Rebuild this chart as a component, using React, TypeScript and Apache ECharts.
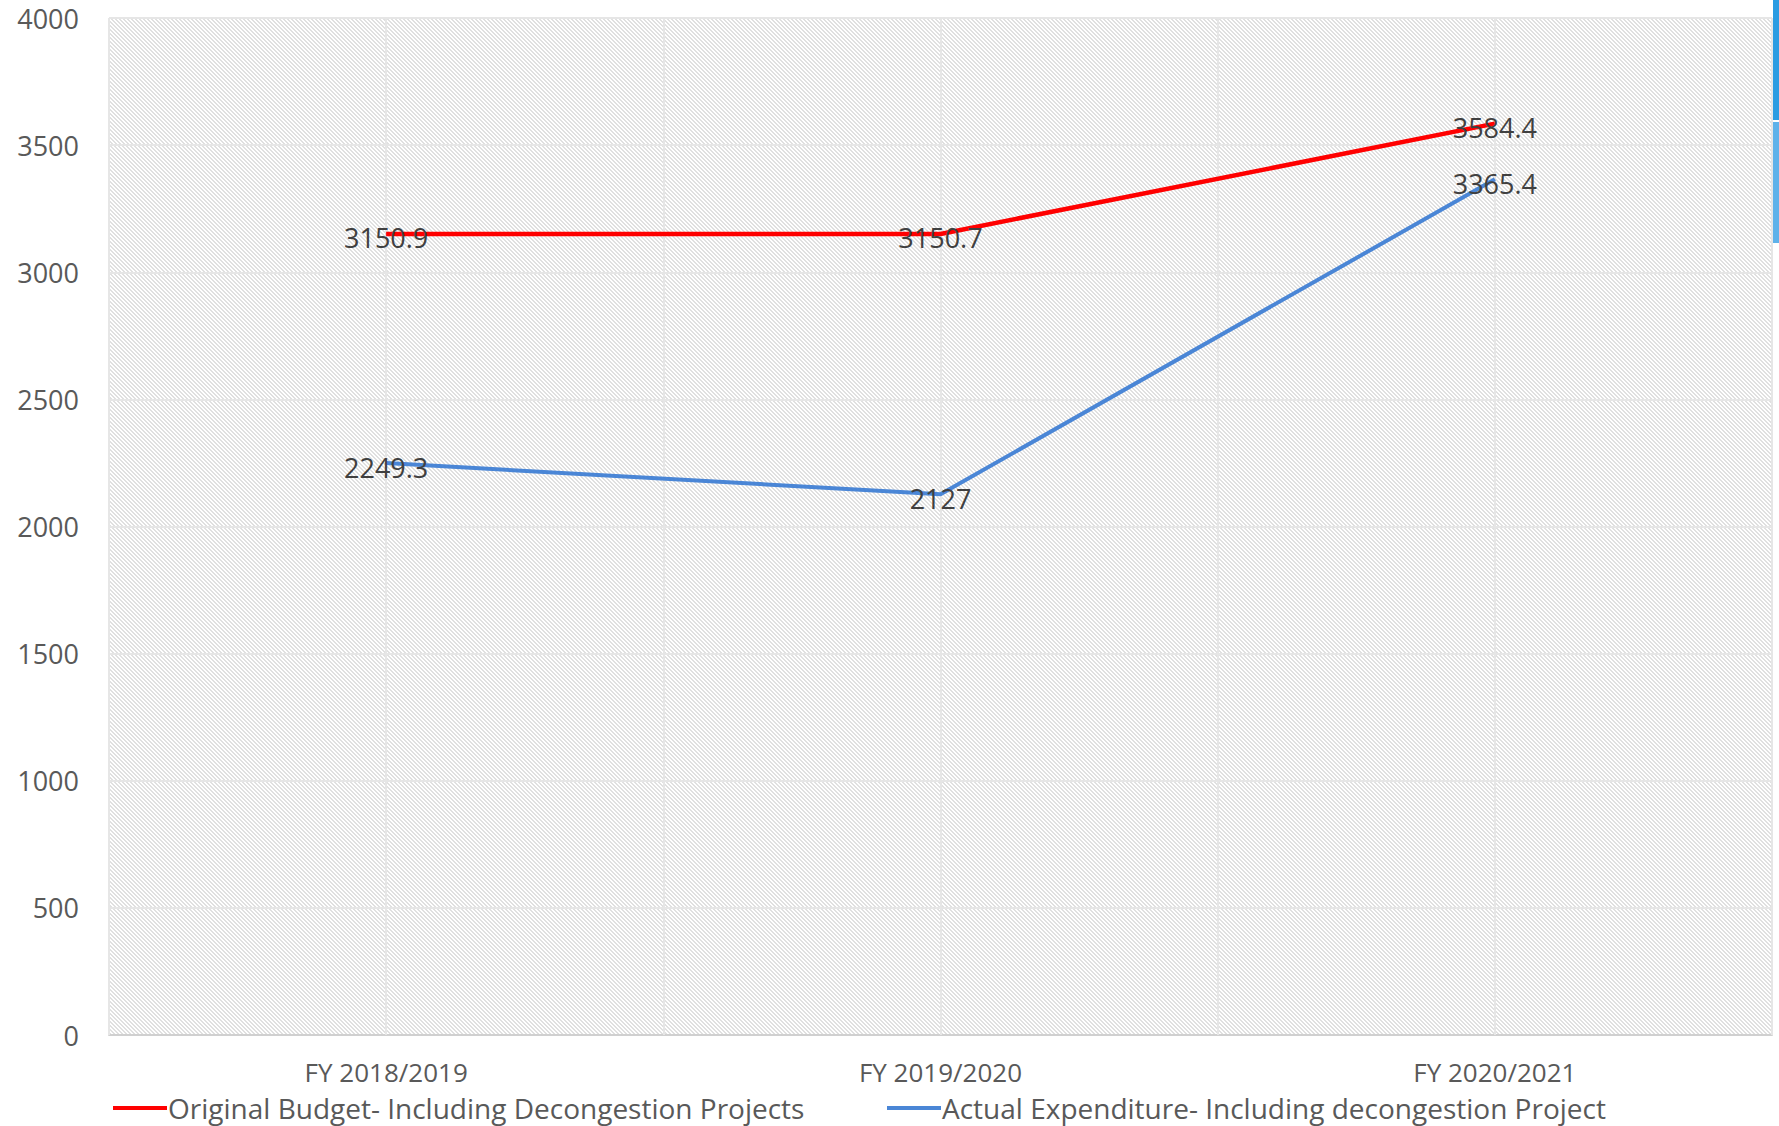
import React, { useEffect, useRef } from "react";
import * as echarts from "echarts";

const categories = ["FY 2018/2019", "FY 2019/2020", "FY 2020/2021"];
const originalBudget = [3150.9, 3150.7, 3584.4];
const actualExpenditure = [2249.3, 2127, 3365.4];
const seriesNames = [
  "Original Budget- Including Decongestion Projects",
  "Actual Expenditure- Including decongestion Project",
];
const yMin = 0;
const yMax = 4000;
const yInterval = 500;

const FONT = "'Open Sans', 'Noto Sans', sans-serif";

function makePattern(): HTMLCanvasElement {
  const c = document.createElement("canvas");
  c.width = 4;
  c.height = 4;
  const ctx = c.getContext("2d")!;
  ctx.fillStyle = "#ffffff";
  ctx.fillRect(0, 0, 4, 4);
  ctx.fillStyle = "#e0e0e0";
  for (let i = 0; i < 4; i++) {
    ctx.fillRect(i, i, 1, 1);
    ctx.fillRect((i + 1) % 4, i, 1, 1);
  }
  return c;
}

export default function App() {
  const ref = useRef<HTMLDivElement>(null);
  useEffect(() => {
    if (!ref.current) return;
    const chart = echarts.init(ref.current, undefined, { renderer: "svg" });
    const pattern = makePattern();
    const labelStyle = {
      show: true,
      position: "inside" as const,
      offset: [0, 4],
      fontFamily: FONT,
      fontSize: 27,
      color: "#404040",
    };
    const legendText = {
      fontFamily: FONT,
      fontSize: 28,
      lineHeight: 28,
      color: "#595959",
      padding: [0, 0, 0, -4],
    };
    chart.setOption({
      animation: false,
      backgroundColor: "#ffffff",
      grid: {
        left: 109,
        right: 7,
        top: 18,
        bottom: 91,
        show: true,
        borderColor: "#d9d9d9",
        borderWidth: 1,
        backgroundColor: { image: pattern, repeat: "repeat" },
        containLabel: false,
      },
      legend: [
        {
          data: [seriesNames[0]],
          left: 113,
          top: 1094,
          padding: 0,
          icon: "rect",
          itemWidth: 54,
          itemHeight: 4,
          itemGap: 0,
          textStyle: legendText,
        },
        {
          data: [seriesNames[1]],
          left: 887,
          top: 1094,
          padding: 0,
          icon: "rect",
          itemWidth: 54,
          itemHeight: 4,
          itemGap: 0,
          textStyle: legendText,
        },
      ],
      xAxis: [
        {
          type: "category",
          data: categories,
          boundaryGap: true,
          axisLine: { show: true, lineStyle: { color: "#d0d0d0", width: 2 } },
          axisTick: { show: false },
          splitLine: { show: false },
          axisLabel: {
            fontFamily: FONT,
            fontSize: 26,
            lineHeight: 26,
            color: "#595959",
            margin: 24,
          },
        },
        {
          type: "value",
          min: 0,
          max: 6,
          interval: 1,
          position: "top",
          axisLine: { show: false },
          axisTick: { show: false },
          axisLabel: { show: false },
          splitLine: { show: true, lineStyle: { color: "#e6e6e6", width: 2 } },
          z: 2,
        },
      ],
      yAxis: {
        type: "value",
        min: yMin,
        max: yMax,
        interval: yInterval,
        axisLine: { show: false },
        axisTick: { show: false },
        splitLine: { show: true, lineStyle: { color: "#e6e6e6", width: 2 } },
        axisLabel: {
          fontFamily: FONT,
          fontSize: 27,
          color: "#595959",
          margin: 30,
          formatter: (v: number) => String(v),
        },
      },
      series: [
        {
          name: seriesNames[0],
          type: "line",
          xAxisIndex: 0,
          data: originalBudget,
          symbol: "circle",
          symbolSize: 1,
          showSymbol: true,
          lineStyle: { color: "#ff0000", width: 4.5 },
          itemStyle: { color: "#ff0000" },
          label: labelStyle,
          z: 3,
        },
        {
          name: seriesNames[1],
          type: "line",
          xAxisIndex: 0,
          data: actualExpenditure,
          symbol: "circle",
          symbolSize: 1,
          showSymbol: true,
          lineStyle: { color: "#4a86d6", width: 4 },
          itemStyle: { color: "#4a86d6" },
          label: labelStyle,
          z: 3,
        },
      ],
      graphic: [
        { type: "rect", shape: { x: 1773, y: 0, width: 6, height: 120 }, style: { fill: "#2b9ce2" } },
        { type: "rect", shape: { x: 1773, y: 122, width: 6, height: 121 }, style: { fill: "#5fb2ea" } },
      ],
    });
    return () => chart.dispose();
  }, []);
  return (
    <div
      ref={ref}
      style={{ position: "fixed", left: 0, top: 0, width: 1779, height: 1126 }}
    />
  );
}
